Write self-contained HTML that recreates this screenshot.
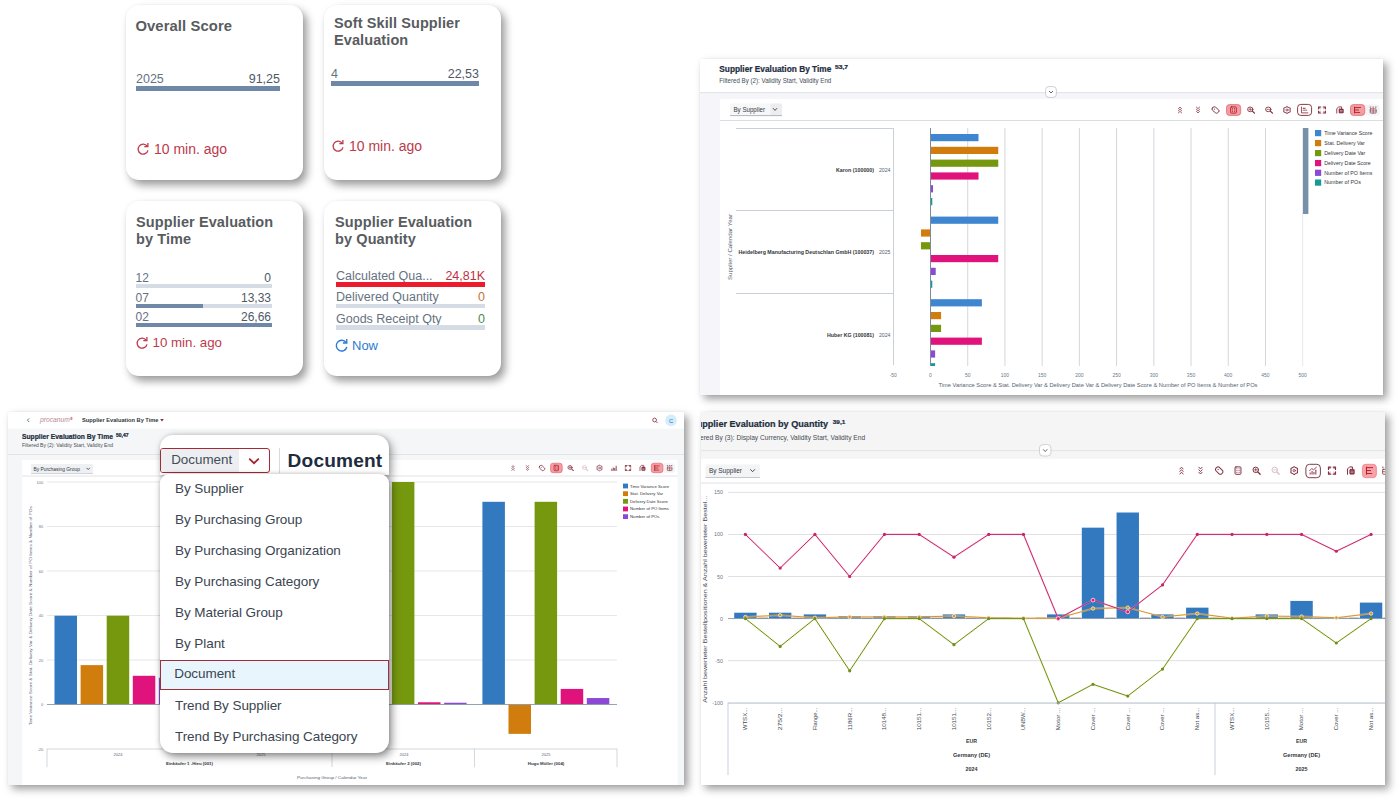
<!DOCTYPE html>
<html lang="en">
<head>
<meta charset="utf-8">
<title>Supplier Evaluation</title>
<style>
html,body{margin:0;padding:0;}
body{width:1400px;height:800px;position:relative;overflow:hidden;background:#fff;
  font-family:"Liberation Sans",sans-serif;color:#32363a;}
.abs{position:absolute;}
/* ---------- KPI cards ---------- */
.card{position:absolute;width:177px;height:175px;background:#fff;border-radius:13px;
  box-shadow:4px 5px 8px rgba(0,0,0,.40), 0 0 2px rgba(0,0,0,.05);}
.card .ttl{position:absolute;left:10px;font-weight:bold;font-size:14.5px;line-height:17px;color:#585c60;letter-spacing:.1px;white-space:nowrap;}
.card .lbl{position:absolute;font-size:12.5px;color:#66727f;white-space:nowrap;line-height:14px;}
.card .val{position:absolute;font-size:12.5px;color:#4d5966;white-space:nowrap;text-align:right;line-height:14px;}
.card .bar{position:absolute;height:5px;background:#d5dce5;}
.card .bar i{position:absolute;left:0;top:0;height:100%;background:#6f88a8;display:block;}
.card .ago{position:absolute;font-size:14px;color:#bd3a4b;white-space:nowrap;line-height:16px;}
.card .ago svg{position:absolute;left:-18px;top:1px;}
/* ---------- panels ---------- */
.panel{position:absolute;background:#fff;box-shadow:4px 4px 8px rgba(0,0,0,.38),0 0 2px rgba(0,0,0,.05);overflow:hidden;}
.panel svg{position:absolute;left:0;top:0;}
svg text{font-family:"Liberation Sans",sans-serif;}
/* ---------- dropdown overlay ---------- */
.ddhead{position:absolute;left:160px;top:435px;width:229px;height:40px;background:#fff;border-radius:13px 13px 0 0;
  box-shadow:3px 3px 8px rgba(0,0,0,.35),0 0 4px rgba(0,0,0,.15);}
.ddsel{position:absolute;left:0;top:13px;width:108px;height:23px;border:1.6px solid #a42a38;border-radius:3px;background:#fff;overflow:hidden;}
.ddtxt{position:absolute;left:0;top:0;width:78px;height:23px;background:#eceef1;font-size:13.4px;line-height:21.3px;color:#434d58;text-indent:10.2px;white-space:nowrap;}
.ddarrow{position:absolute;left:84.5px;top:2.5px;}
.ddsep{position:absolute;left:119px;top:13px;width:1px;height:25px;background:#d6d9dd;}
.ddbig{position:absolute;left:127.6px;top:14.4px;font-size:19.1px;font-weight:bold;color:#1d2d3e;line-height:24.5px;white-space:nowrap;letter-spacing:.18px;}
.ddlist{position:absolute;left:160px;top:474px;width:229px;height:279px;background:#fff;border-radius:9px 9px 13px 13px;
  box-shadow:3px 4px 9px rgba(0,0,0,.42),0 0 4px rgba(0,0,0,.18);}
.ddlist div{position:absolute;left:0;width:229px;height:30px;line-height:30px;font-size:13.5px;letter-spacing:-.06px;color:#3b4550;text-indent:15px;white-space:nowrap;box-sizing:border-box;}
.ddlist div.sel{background:#e8f5fd;border:1.8px solid #9f2d3b;text-indent:13.2px;line-height:26.6px;}
</style>
</head>
<body>

<!-- ================= KPI CARDS ================= -->
<div class="card" style="left:126px;top:5px;">
  <div class="ttl" style="top:13px;left:9.4px;font-size:14.8px;">Overall Score</div>
  <div class="lbl" style="left:10px;top:67px;">2025</div>
  <div class="val" style="right:23px;top:67px;">91,25</div>
  <div class="bar" style="left:10px;top:81px;width:144px;"><i style="width:100%"></i></div>
  <div class="ago" style="left:28px;top:136px;"><svg width="14" height="14" viewBox="0 0 14 14"><path d="M11.2 4.2A5 5 0 1 0 12 8.4" fill="none" stroke="#bd3a4b" stroke-width="1.3"/><path d="M8.3 4.6h3.6V1" fill="none" stroke="#bd3a4b" stroke-width="1.3"/></svg>10 min. ago</div>
</div>

<div class="card" style="left:324px;top:5px;">
  <div class="ttl" style="top:10px;">Soft Skill Supplier<br>Evaluation</div>
  <div class="lbl" style="left:7px;top:62px;">4</div>
  <div class="val" style="right:22px;top:62px;">22,53</div>
  <div class="bar" style="left:7px;top:76px;width:148px;"><i style="width:100%"></i></div>
  <div class="ago" style="left:25px;top:133px;"><svg width="14" height="14" viewBox="0 0 14 14"><path d="M11.2 4.2A5 5 0 1 0 12 8.4" fill="none" stroke="#bd3a4b" stroke-width="1.3"/><path d="M8.3 4.6h3.6V1" fill="none" stroke="#bd3a4b" stroke-width="1.3"/></svg>10 min. ago</div>
</div>

<div class="card" style="left:126px;top:201px;">
  <div class="ttl" style="top:12.6px;">Supplier Evaluation<br>by Time</div>
  <div class="lbl" style="left:9.5px;top:70.4px;font-size:12px;">12</div><div class="val" style="right:32px;top:70.4px;font-size:12px;">0</div>
  <div class="bar" style="left:10px;top:83px;width:136px;height:4.4px;"></div>
  <div class="lbl" style="left:9.5px;top:89.8px;font-size:12px;">07</div><div class="val" style="right:32px;top:89.8px;font-size:12px;">13,33</div>
  <div class="bar" style="left:10px;top:102.6px;width:136px;height:4.4px;"><i style="width:49.3%"></i></div>
  <div class="lbl" style="left:9.5px;top:109.4px;font-size:12px;">02</div><div class="val" style="right:32px;top:109.4px;font-size:12px;">26,66</div>
  <div class="bar" style="left:10px;top:121.5px;width:136px;height:4.8px;"><i style="width:100%"></i></div>
  <div class="ago" style="left:26.5px;top:134.4px;font-size:13.3px;"><svg width="14" height="14" viewBox="0 0 14 14"><path d="M11.2 4.2A5 5 0 1 0 12 8.4" fill="none" stroke="#bd3a4b" stroke-width="1.3"/><path d="M8.3 4.6h3.6V1" fill="none" stroke="#bd3a4b" stroke-width="1.3"/></svg>10 min. ago</div>
</div>

<div class="card" style="left:324px;top:201px;">
  <div class="ttl" style="top:12.6px;left:11px;">Supplier Evaluation<br>by Quantity</div>
  <div class="lbl" style="left:12px;top:68px;">Calculated Qua...</div><div class="val" style="right:16px;top:68px;color:#c2313f;">24,81K</div>
  <div class="bar" style="left:12px;top:81.4px;width:149px;background:#ec1c2c;"></div>
  <div class="lbl" style="left:12px;top:89px;">Delivered Quantity</div><div class="val" style="right:16px;top:89px;color:#c8723a;">0</div>
  <div class="bar" style="left:12px;top:103.2px;width:149px;height:4.2px;"></div>
  <div class="lbl" style="left:12px;top:111px;">Goods Receipt Qty</div><div class="val" style="right:16px;top:111px;color:#4b8a4e;">0</div>
  <div class="bar" style="left:12px;top:124.4px;width:149px;height:4.2px;"></div>
  <div class="ago" style="left:28px;top:137px;color:#2b7bd1;font-size:13px;"><svg width="15" height="15" viewBox="0 0 14 14" style="left:-18px;top:0"><path d="M11.2 4.2A5 5 0 1 0 12 8.4" fill="none" stroke="#2b7bd1" stroke-width="1.3"/><path d="M8.3 4.6h3.6V1" fill="none" stroke="#2b7bd1" stroke-width="1.3"/></svg>Now</div>
</div>

<div class="panel" style="left:700px;top:59px;width:683px;height:336.4px;">
<svg width="683" height="336.4" viewBox="700 59 683 336.4">
<rect x="700" y="59" width="683" height="34" fill="#fff"/>
<rect x="700" y="93" width="683" height="336.4" fill="#f6f6fa"/>
<rect x="700" y="92" width="683" height="1.2" fill="#e4e5ea"/>
<rect x="720" y="99" width="663" height="296.4" fill="#fff"/>
<text x="719.3" y="71.7" font-size="9.3" font-weight="bold" fill="#1d2d3e" stroke="#1d2d3e" stroke-width="0.22" textLength="112" lengthAdjust="spacingAndGlyphs">Supplier Evaluation By Time</text>
<text x="835" y="69.2" font-size="5.6" font-weight="bold" fill="#1d2d3e" stroke="#1d2d3e" stroke-width="0.22" textLength="13" lengthAdjust="spacingAndGlyphs">53,7</text>
<text x="719.3" y="82.7" font-size="6.9" fill="#454c54" textLength="112" lengthAdjust="spacingAndGlyphs">Filtered By (2): Validity Start, Validity End</text>
<rect x="1045.6" y="86.6" width="10.8" height="10.8" rx="3.2" fill="#fff" stroke="#bfc3c8" stroke-width="0.8"/>
<path d="M1049 91L1051 93L1053 91" fill="none" stroke="#4a5560" stroke-width="0.9"/>
<rect x="730" y="103.6" width="52" height="12" rx="1.5" fill="#f7f7f9"/>
<rect x="770.5" y="103.6" width="11.5" height="12" rx="1.5" fill="#ededf1"/>
<rect x="730" y="115.2" width="52" height="0.9" fill="#a3adb8"/>
<text x="733.5" y="111.9" font-size="6.6" fill="#32363a" textLength="31.5" lengthAdjust="spacingAndGlyphs">By Supplier</text>
<path d="M773 108.2L775 110.4L777 108.2" fill="none" stroke="#32363a" stroke-width="0.9"/>
<rect x="720" y="120" width="663" height="1" fill="#dcdde0"/>
<rect x="1226.5" y="104.6" width="14.2" height="10.8" rx="3" fill="#f39ca1" stroke="#e06a74" stroke-width="0.8"/>
<rect x="1297.6" y="104.4" width="14" height="11" rx="3.2" fill="#fff" stroke="#7a2533" stroke-width="0.9"/>
<rect x="1365" y="104.6" width="14.5" height="10.8" rx="3" fill="#f3f4f6"/>
<rect x="1350.5" y="104.6" width="14.2" height="10.8" rx="3" fill="#f39ca1" stroke="#e06a74" stroke-width="0.8"/>
<g transform="translate(1180.00,110.00) scale(0.92,0.8)" fill="none" stroke="#843040" stroke-width="0.97" stroke-linecap="round" stroke-linejoin="round" opacity="1"><path d="M-1.7 -1.7L0 -3.6L1.7 -1.7M-1.7 0.9L0 -1L1.7 0.9M-1.7 3.6L0 1.7L1.7 3.6"/></g>
<g transform="translate(1198.00,110.00) scale(0.92,0.8)" fill="none" stroke="#843040" stroke-width="0.97" stroke-linecap="round" stroke-linejoin="round" opacity="1"><path d="M-1.7 -3.6L0 -1.7L1.7 -3.6M-1.7 -0.9L0 1L1.7 -0.9M-1.7 1.7L0 3.6L1.7 1.7"/></g>
<g transform="translate(1215.50,110.00) scale(0.92,0.8)" fill="none" stroke="#843040" stroke-width="0.97" stroke-linecap="round" stroke-linejoin="round" opacity="1"><rect x="-2.5" y="-4.2" width="5" height="8.4" rx="1.9" transform="rotate(-45)" stroke-width="1.05"/><circle cx="-1.1" cy="-1.1" r="0.7" fill="#843040" stroke="none"/></g>
<g transform="translate(1233.50,110.00) scale(0.92,0.8)" fill="none" stroke="#b3202c" stroke-width="0.97" stroke-linecap="round" stroke-linejoin="round" opacity="1"><rect x="-3.1" y="-3.9" width="6.2" height="7.8" rx="0.9" stroke-width="1.05"/><path d="M-1.2 -1.9H-1.1M1.1 -1.9H1.2M-1.2 0H-1.1M1.1 0H1.2M-1.2 1.9H-1.1M1.1 1.9H1.2" stroke-width="1.01"/></g>
<g transform="translate(1251.00,110.00) scale(0.92,0.8)" fill="none" stroke="#843040" stroke-width="0.97" stroke-linecap="round" stroke-linejoin="round" opacity="1"><circle cx="-0.8" cy="-0.8" r="2.9" stroke-width="1.05"/><path d="M1.5 1.5L3.8 3.8" stroke-width="1.43"/><path d="M-2.2 -0.8H0.6M-0.8 -2.2V0.6" stroke-width="0.80"/></g>
<g transform="translate(1269.00,110.00) scale(0.92,0.8)" fill="none" stroke="#843040" stroke-width="0.97" stroke-linecap="round" stroke-linejoin="round" opacity="1"><circle cx="-0.8" cy="-0.8" r="2.9" stroke-width="1.05"/><path d="M1.5 1.5L3.8 3.8" stroke-width="1.43"/><path d="M-2.2 -0.8H0.6" stroke-width="0.80"/></g>
<g transform="translate(1287.00,110.00) scale(0.92,0.8)" fill="none" stroke="#843040" stroke-width="0.97" stroke-linecap="round" stroke-linejoin="round" opacity="1"><path d="M0 -4.2L1.5 -3.2L3.5 -2.3L3.3 -0.2L3.5 2.3L1.5 3.2L0 4.2L-1.5 3.2L-3.5 2.3L-3.3 -0.2L-3.5 -2.3L-1.5 -3.2Z" stroke-width="1.09"/><circle cx="0" cy="0" r="1.25" stroke-width="0.84"/></g>
<g transform="translate(1304.50,110.00) scale(0.92,0.8)" fill="none" stroke="#843040" stroke-width="0.97" stroke-linecap="round" stroke-linejoin="round" opacity="1"><path d="M-3.3 -3.7V3.6H3.7" /><path d="M-1.5 -2.2H0.8M-1.5 0.2H2.6" stroke-width="1.09"/></g>
<g transform="translate(1322.00,110.00) scale(0.92,0.8)" fill="none" stroke="#843040" stroke-width="0.97" stroke-linecap="round" stroke-linejoin="round" opacity="1"><path d="M-3.7 -1.2V-3.7H-1.2M1.2 -3.7H3.7V-1.2M3.7 1.2V3.7H1.2M-1.2 3.7H-3.7V1.2" stroke-width="1.22"/><path d="M-3.5 -3.5L-2 -2M3.5 -3.5L2 -2M3.5 3.5L2 2M-3.5 3.5L-2 2" stroke-width="0.92"/></g>
<g transform="translate(1340.00,110.00) scale(0.92,0.8)" fill="none" stroke="#843040" stroke-width="0.97" stroke-linecap="round" stroke-linejoin="round" opacity="1"><path d="M-3.5 3.9V-1.7L-1.3 -3.9H1.7V-1.4" stroke-width="1.05"/><rect x="-1.1" y="-1.3" width="4.8" height="5.1" rx="0.8" fill="#843040" stroke-width="0.67"/><path d="M0.2 0.6H2.4M0.2 2.2H2.4" stroke="#fff" stroke-width="0.50"/></g>
<g transform="translate(1357.50,110.00) scale(0.92,0.8)" fill="none" stroke="#b3202c" stroke-width="0.97" stroke-linecap="round" stroke-linejoin="round" opacity="1"><path d="M-3.2 -3.8V3.8" stroke-width="1.09"/><path d="M-3.2 -3.1H3.3M-3.2 0H1.2M-3.2 3.1H2.4" stroke-width="1.05"/></g>
<g transform="translate(1373.00,110.00) scale(0.92,0.8)" fill="none" stroke="#843040" stroke-width="0.97" stroke-linecap="round" stroke-linejoin="round" opacity="1"><rect x="-3" y="-1.4" width="6.4" height="5.2" rx="0.5" stroke-width="0.84"/><path d="M-3 1.2H3.4M0.2 -1.4V3.8" stroke-width="0.76"/><path d="M-3.2 -3.6H-2.4M-0.2 -3.6H0.6M2.6 -3.6H3.4" stroke-width="0.92"/></g>
<rect x="736" y="128.0" width="157.5" height="1" fill="#c9d0d8"/>
<rect x="736" y="210.0" width="157.5" height="1" fill="#c9d0d8"/>
<rect x="736" y="293.0" width="157.5" height="1" fill="#c9d0d8"/>
<rect x="893" y="128" width="1" height="237" fill="#c9d0d8"/>
<rect x="967.22" y="128" width="1" height="238" fill="#d3d7dc"/>
<rect x="1004.44" y="128" width="1" height="238" fill="#d3d7dc"/>
<rect x="1041.66" y="128" width="1" height="238" fill="#d3d7dc"/>
<rect x="1078.88" y="128" width="1" height="238" fill="#d3d7dc"/>
<rect x="1116.10" y="128" width="1" height="238" fill="#d3d7dc"/>
<rect x="1153.32" y="128" width="1" height="238" fill="#d3d7dc"/>
<rect x="1190.54" y="128" width="1" height="238" fill="#d3d7dc"/>
<rect x="1227.76" y="128" width="1" height="238" fill="#d3d7dc"/>
<rect x="1264.98" y="128" width="1" height="238" fill="#d3d7dc"/>
<rect x="1302.20" y="128" width="1" height="238" fill="#e6e8ec"/>
<rect x="930.50" y="134.00" width="48.01" height="7.2" fill="#3f86d0"/>
<rect x="930.50" y="146.80" width="67.74" height="7.2" fill="#d07d0e"/>
<rect x="930.50" y="159.60" width="67.74" height="7.2" fill="#76980f"/>
<rect x="930.50" y="172.40" width="48.01" height="7.2" fill="#df137b"/>
<rect x="930.50" y="185.20" width="2.53" height="7.2" fill="#8c49d5"/>
<rect x="930.50" y="198.00" width="1.79" height="7.2" fill="#149b95"/>
<rect x="930.50" y="216.60" width="67.74" height="7.2" fill="#3f86d0"/>
<rect x="920.97" y="229.40" width="9.53" height="7.2" fill="#d07d0e"/>
<rect x="920.97" y="242.20" width="9.53" height="7.2" fill="#76980f"/>
<rect x="930.50" y="255.00" width="67.74" height="7.2" fill="#df137b"/>
<rect x="930.50" y="267.80" width="5.21" height="7.2" fill="#8c49d5"/>
<rect x="930.50" y="280.60" width="1.79" height="7.2" fill="#149b95"/>
<rect x="930.50" y="299.20" width="51.36" height="7.2" fill="#3f86d0"/>
<rect x="930.50" y="312.00" width="10.57" height="7.2" fill="#d07d0e"/>
<rect x="930.50" y="324.80" width="10.57" height="7.2" fill="#76980f"/>
<rect x="930.50" y="337.60" width="51.36" height="7.2" fill="#df137b"/>
<rect x="930.50" y="350.40" width="4.62" height="7.2" fill="#8c49d5"/>
<rect x="930.50" y="363.20" width="4.62" height="2.8000000000000114" fill="#149b95"/>
<rect x="930.0" y="128" width="1" height="238" fill="#7c8b9b"/>
<text x="874" y="171.9" font-size="5" font-weight="bold" fill="#32363a" text-anchor="end" textLength="38" lengthAdjust="spacingAndGlyphs">Karon (100000)</text>
<text x="879" y="171.9" font-size="5" fill="#556270" textLength="11.5" lengthAdjust="spacingAndGlyphs">2024</text>
<text x="874" y="254.4" font-size="5" font-weight="bold" fill="#32363a" text-anchor="end" textLength="135.5" lengthAdjust="spacingAndGlyphs">Heidelberg Manufacturing Deutschlan GmbH (100037)</text>
<text x="879" y="254.4" font-size="5" fill="#556270" textLength="11.5" lengthAdjust="spacingAndGlyphs">2025</text>
<text x="874" y="337" font-size="5" font-weight="bold" fill="#32363a" text-anchor="end" textLength="47" lengthAdjust="spacingAndGlyphs">Huber KG (100081)</text>
<text x="879" y="337" font-size="5" fill="#556270" textLength="11.5" lengthAdjust="spacingAndGlyphs">2024</text>
<text transform="translate(731.5,280) rotate(-90)" font-size="5" fill="#556270" textLength="66" lengthAdjust="spacingAndGlyphs">Supplier / Calendar Year</text>
<text x="893.28" y="377" font-size="5" fill="#6a7a8a" text-anchor="middle">-50</text>
<text x="930.50" y="377" font-size="5" fill="#6a7a8a" text-anchor="middle">0</text>
<text x="967.72" y="377" font-size="5" fill="#6a7a8a" text-anchor="middle">50</text>
<text x="1004.94" y="377" font-size="5" fill="#6a7a8a" text-anchor="middle">100</text>
<text x="1042.16" y="377" font-size="5" fill="#6a7a8a" text-anchor="middle">150</text>
<text x="1079.38" y="377" font-size="5" fill="#6a7a8a" text-anchor="middle">200</text>
<text x="1116.60" y="377" font-size="5" fill="#6a7a8a" text-anchor="middle">250</text>
<text x="1153.82" y="377" font-size="5" fill="#6a7a8a" text-anchor="middle">300</text>
<text x="1191.04" y="377" font-size="5" fill="#6a7a8a" text-anchor="middle">350</text>
<text x="1228.26" y="377" font-size="5" fill="#6a7a8a" text-anchor="middle">400</text>
<text x="1265.48" y="377" font-size="5" fill="#6a7a8a" text-anchor="middle">450</text>
<text x="1302.70" y="377" font-size="5" fill="#6a7a8a" text-anchor="middle">500</text>
<text x="938.5" y="387" font-size="5" fill="#556270" textLength="319" lengthAdjust="spacingAndGlyphs">Time Variance Score &amp; Stat. Delivery Var &amp; Delivery Date Var &amp; Delivery Date Score &amp; Number of PO Items &amp; Number of POs</text>
<rect x="1303" y="128" width="5.4" height="86" fill="#7890aa"/>
<rect x="1315" y="130" width="6.2" height="6.2" fill="#3f86d0"/>
<text x="1324.3" y="134.9" font-size="5.2" fill="#32363a" textLength="48" lengthAdjust="spacingAndGlyphs">Time Variance Score</text>
<rect x="1315" y="140" width="6.2" height="6.2" fill="#d07d0e"/>
<text x="1324.3" y="144.9" font-size="5.2" fill="#32363a" textLength="40.5" lengthAdjust="spacingAndGlyphs">Stat. Delivery Var</text>
<rect x="1315" y="150" width="6.2" height="6.2" fill="#76980f"/>
<text x="1324.3" y="154.9" font-size="5.2" fill="#32363a" textLength="41" lengthAdjust="spacingAndGlyphs">Delivery Date Var</text>
<rect x="1315" y="160" width="6.2" height="6.2" fill="#df137b"/>
<text x="1324.3" y="164.9" font-size="5.2" fill="#32363a" textLength="46.5" lengthAdjust="spacingAndGlyphs">Delivery Date Score</text>
<rect x="1315" y="169.7" width="6.2" height="6.2" fill="#8c49d5"/>
<text x="1324.3" y="174.6" font-size="5.2" fill="#32363a" textLength="48" lengthAdjust="spacingAndGlyphs">Number of PO Items</text>
<rect x="1315" y="179.5" width="6.2" height="6.2" fill="#149b95"/>
<text x="1324.3" y="184.4" font-size="5.2" fill="#32363a" textLength="36.5" lengthAdjust="spacingAndGlyphs">Number of POs</text>
</svg></div>
<div class="panel" style="left:8px;top:412px;width:676px;height:373px;">
<svg width="676" height="373" viewBox="8 412 676 373">
<rect x="8" y="412" width="676" height="373" fill="#f5f6f7"/>
<rect x="8" y="412" width="676" height="16.6" fill="#fff"/>
<rect x="8" y="454" width="676" height="0.9" fill="#e1e3e6"/>
<rect x="22" y="460" width="655.5" height="325" fill="#fff"/>
<path d="M29.2 418.4L27.4 420.2L29.2 422" fill="none" stroke="#4a5560" stroke-width="0.8"/>
<text x="40" y="422" font-size="6.6" font-style="italic" fill="#b98a95" font-family="Liberation Serif,serif" textLength="30" lengthAdjust="spacingAndGlyphs">procanum</text>
<text x="70.3" y="419.8" font-size="4" font-style="italic" font-weight="bold" fill="#c0334a" font-family="Liberation Serif,serif">5</text>
<text x="82" y="422.1" font-size="5.9" font-weight="bold" fill="#32363a" textLength="76.5" lengthAdjust="spacingAndGlyphs">Supplier Evaluation By Time</text>
<path d="M160.2 418.9h3.6l-1.8 2.5z" fill="#8d2a3a"/>
<circle cx="654.6" cy="420" r="1.9" fill="none" stroke="#8d2a3a" stroke-width="0.8"/><path d="M656 421.5L657.6 423.1" stroke="#8d2a3a" stroke-width="0.9"/>
<circle cx="671" cy="420.4" r="5.8" fill="#d3edfb"/>
<text x="671" y="422.5" font-size="5.8" fill="#1a6fb5" text-anchor="middle">C</text>
<text x="22" y="438.7" font-size="7.3" font-weight="bold" fill="#1d2d3e" stroke="#1d2d3e" stroke-width="0.22" textLength="91" lengthAdjust="spacingAndGlyphs">Supplier Evaluation By Time</text>
<text x="116" y="437" font-size="4.6" font-weight="bold" fill="#1d2d3e" stroke="#1d2d3e" stroke-width="0.22" textLength="12.5" lengthAdjust="spacingAndGlyphs">50,47</text>
<text x="22" y="447.4" font-size="4.9" fill="#454c54" textLength="91" lengthAdjust="spacingAndGlyphs">Filtered By (2): Validity Start, Validity End</text>
<rect x="31" y="464" width="62" height="9.4" rx="1.2" fill="#eef0f3"/>
<rect x="31" y="473" width="62" height="0.8" fill="#c3cad3"/>
<text x="33.4" y="470.5" font-size="5.1" fill="#32363a" textLength="46.5" lengthAdjust="spacingAndGlyphs">By Purchasing Group</text>
<path d="M86.6 467.9L88.2 469.5L89.8 467.9" fill="none" stroke="#32363a" stroke-width="0.8"/>
<rect x="22" y="475.6" width="655.5" height="0.8" fill="#dcdde0"/>
<rect x="550.6" y="463.2" width="11.6" height="9.5" rx="2.5" fill="#f39ca1" stroke="#e06a74" stroke-width="0.7"/>
<rect x="663" y="463.2" width="12" height="9.5" rx="2.5" fill="#f3f4f6"/>
<rect x="651.3" y="463.2" width="11.6" height="9.5" rx="2.5" fill="#f39ca1" stroke="#e06a74" stroke-width="0.7"/>
<g transform="translate(513.00,468.00) scale(0.72,0.68)" fill="none" stroke="#843040" stroke-width="0.97" stroke-linecap="round" stroke-linejoin="round" opacity="1"><path d="M-1.7 -1.7L0 -3.6L1.7 -1.7M-1.7 0.9L0 -1L1.7 0.9M-1.7 3.6L0 1.7L1.7 3.6"/></g>
<g transform="translate(527.50,468.00) scale(0.72,0.68)" fill="none" stroke="#843040" stroke-width="0.97" stroke-linecap="round" stroke-linejoin="round" opacity="1"><path d="M-1.7 -3.6L0 -1.7L1.7 -3.6M-1.7 -0.9L0 1L1.7 -0.9M-1.7 1.7L0 3.6L1.7 1.7"/></g>
<g transform="translate(542.00,468.00) scale(0.72,0.68)" fill="none" stroke="#843040" stroke-width="0.97" stroke-linecap="round" stroke-linejoin="round" opacity="1"><rect x="-2.5" y="-4.2" width="5" height="8.4" rx="1.9" transform="rotate(-45)" stroke-width="1.05"/><circle cx="-1.1" cy="-1.1" r="0.7" fill="#843040" stroke="none"/></g>
<g transform="translate(556.30,468.00) scale(0.72,0.68)" fill="none" stroke="#b3202c" stroke-width="0.97" stroke-linecap="round" stroke-linejoin="round" opacity="1"><rect x="-3.1" y="-3.9" width="6.2" height="7.8" rx="0.9" stroke-width="1.05"/><path d="M-1.2 -1.9H-1.1M1.1 -1.9H1.2M-1.2 0H-1.1M1.1 0H1.2M-1.2 1.9H-1.1M1.1 1.9H1.2" stroke-width="1.01"/></g>
<g transform="translate(570.60,468.00) scale(0.72,0.68)" fill="none" stroke="#843040" stroke-width="0.97" stroke-linecap="round" stroke-linejoin="round" opacity="1"><circle cx="-0.8" cy="-0.8" r="2.9" stroke-width="1.05"/><path d="M1.5 1.5L3.8 3.8" stroke-width="1.43"/><path d="M-2.2 -0.8H0.6M-0.8 -2.2V0.6" stroke-width="0.80"/></g>
<g transform="translate(585.00,468.00) scale(0.72,0.68)" fill="none" stroke="#843040" stroke-width="0.97" stroke-linecap="round" stroke-linejoin="round" opacity="0.3"><circle cx="-0.8" cy="-0.8" r="2.9" stroke-width="1.05"/><path d="M1.5 1.5L3.8 3.8" stroke-width="1.43"/><path d="M-2.2 -0.8H0.6" stroke-width="0.80"/></g>
<g transform="translate(599.50,468.00) scale(0.72,0.68)" fill="none" stroke="#843040" stroke-width="0.97" stroke-linecap="round" stroke-linejoin="round" opacity="1"><path d="M0 -4.2L1.5 -3.2L3.5 -2.3L3.3 -0.2L3.5 2.3L1.5 3.2L0 4.2L-1.5 3.2L-3.5 2.3L-3.3 -0.2L-3.5 -2.3L-1.5 -3.2Z" stroke-width="1.09"/><circle cx="0" cy="0" r="1.25" stroke-width="0.84"/></g>
<g transform="translate(614.00,468.00) scale(0.72,0.68)" fill="none" stroke="#843040" stroke-width="0.97" stroke-linecap="round" stroke-linejoin="round" opacity="1"><path d="M-3 3.2V1M-1 3.2V-0.8M1 3.2V0M3 3.2V-3.2" stroke-width="1.26" stroke-linecap="butt"/><path d="M-4 3.6H4" stroke-width="0.67"/></g>
<g transform="translate(628.00,468.00) scale(0.72,0.68)" fill="none" stroke="#843040" stroke-width="0.97" stroke-linecap="round" stroke-linejoin="round" opacity="1"><path d="M-3.7 -1.2V-3.7H-1.2M1.2 -3.7H3.7V-1.2M3.7 1.2V3.7H1.2M-1.2 3.7H-3.7V1.2" stroke-width="1.22"/><path d="M-3.5 -3.5L-2 -2M3.5 -3.5L2 -2M3.5 3.5L2 2M-3.5 3.5L-2 2" stroke-width="0.92"/></g>
<g transform="translate(642.50,468.00) scale(0.72,0.68)" fill="none" stroke="#843040" stroke-width="0.97" stroke-linecap="round" stroke-linejoin="round" opacity="1"><path d="M-3.5 3.9V-1.7L-1.3 -3.9H1.7V-1.4" stroke-width="1.05"/><rect x="-1.1" y="-1.3" width="4.8" height="5.1" rx="0.8" fill="#843040" stroke-width="0.67"/><path d="M0.2 0.6H2.4M0.2 2.2H2.4" stroke="#fff" stroke-width="0.50"/></g>
<g transform="translate(657.00,468.00) scale(0.72,0.68)" fill="none" stroke="#b3202c" stroke-width="0.97" stroke-linecap="round" stroke-linejoin="round" opacity="1"><path d="M-3.2 -3.8V3.8" stroke-width="1.09"/><path d="M-3.2 -3.1H3.3M-3.2 0H1.2M-3.2 3.1H2.4" stroke-width="1.05"/></g>
<g transform="translate(669.50,468.00) scale(0.72,0.68)" fill="none" stroke="#843040" stroke-width="0.97" stroke-linecap="round" stroke-linejoin="round" opacity="1"><rect x="-3" y="-1.4" width="6.4" height="5.2" rx="0.5" stroke-width="0.84"/><path d="M-3 1.2H3.4M0.2 -1.4V3.8" stroke-width="0.76"/><path d="M-3.2 -3.6H-2.4M-0.2 -3.6H0.6M2.6 -3.6H3.4" stroke-width="0.92"/></g>
<text x="43.3" y="750.50" font-size="4" fill="#6a7a8a" text-anchor="end">-20</text>
<text x="43.3" y="706.00" font-size="4" fill="#6a7a8a" text-anchor="end">0</text>
<rect x="47" y="659.65" width="570" height="0.7" fill="#dcdee2"/>
<text x="43.3" y="661.50" font-size="4" fill="#6a7a8a" text-anchor="end">20</text>
<rect x="47" y="615.15" width="570" height="0.7" fill="#dcdee2"/>
<text x="43.3" y="617.00" font-size="4" fill="#6a7a8a" text-anchor="end">40</text>
<rect x="47" y="570.65" width="570" height="0.7" fill="#dcdee2"/>
<text x="43.3" y="572.50" font-size="4" fill="#6a7a8a" text-anchor="end">60</text>
<rect x="47" y="526.15" width="570" height="0.7" fill="#dcdee2"/>
<text x="43.3" y="528.00" font-size="4" fill="#6a7a8a" text-anchor="end">80</text>
<rect x="47" y="481.65" width="570" height="0.7" fill="#dcdee2"/>
<text x="43.3" y="483.50" font-size="4" fill="#6a7a8a" text-anchor="end">100</text>
<rect x="54.50" y="615.72" width="22.5" height="88.78" fill="#3379c0"/>
<rect x="80.60" y="665.12" width="22.5" height="39.38" fill="#d07d0e"/>
<rect x="106.70" y="615.72" width="22.5" height="88.78" fill="#76980f"/>
<rect x="132.80" y="675.80" width="22.5" height="28.70" fill="#df137b"/>
<rect x="158.90" y="677.80" width="22.5" height="26.70" fill="#8c49d5"/>
<rect x="339.70" y="482.00" width="22.5" height="222.50" fill="#3379c0"/>
<rect x="391.90" y="482.00" width="22.5" height="222.50" fill="#76980f"/>
<rect x="418.00" y="702.27" width="22.5" height="2.23" fill="#df137b"/>
<rect x="444.10" y="702.72" width="22.5" height="1.78" fill="#8c49d5"/>
<rect x="482.40" y="501.80" width="22.5" height="202.70" fill="#3379c0"/>
<rect x="508.50" y="704.50" width="22.5" height="29.37" fill="#d07d0e"/>
<rect x="534.60" y="501.80" width="22.5" height="202.70" fill="#76980f"/>
<rect x="560.70" y="688.92" width="22.5" height="15.58" fill="#df137b"/>
<rect x="586.80" y="698.05" width="22.5" height="6.45" fill="#8c49d5"/>
<rect x="47" y="704.1" width="570" height="0.9" fill="#8b98a6"/>
<rect x="47" y="748.6" width="570" height="0.8" fill="#c9d0d8"/>
<rect x="46.6" y="748.6" width="0.8" height="18.6" fill="#c9d0d8"/>
<rect x="331.6" y="748.6" width="0.8" height="18.6" fill="#c9d0d8"/>
<rect x="474.1" y="748.6" width="0.8" height="18.6" fill="#c9d0d8"/>
<rect x="616.6" y="748.6" width="0.8" height="18.6" fill="#c9d0d8"/>
<text x="118" y="755.7" font-size="4" fill="#556270" text-anchor="middle">2024</text>
<text x="261" y="755.7" font-size="4" fill="#556270" text-anchor="middle">2025</text>
<text x="404" y="755.7" font-size="4" fill="#556270" text-anchor="middle">2024</text>
<text x="546" y="755.7" font-size="4" fill="#556270" text-anchor="middle">2025</text>
<text x="189.5" y="764.6" font-size="4" font-weight="bold" fill="#32363a" text-anchor="middle" textLength="47" lengthAdjust="spacingAndGlyphs">Einkäufer 1 -Hieu (001)</text>
<text x="403.5" y="764.6" font-size="4" font-weight="bold" fill="#32363a" text-anchor="middle" textLength="35" lengthAdjust="spacingAndGlyphs">Einkäufer 2 (002)</text>
<text x="546" y="764.6" font-size="4" font-weight="bold" fill="#32363a" text-anchor="middle" textLength="36.5" lengthAdjust="spacingAndGlyphs">Hugo Müller (004)</text>
<text x="332" y="778.8" font-size="4" fill="#556270" text-anchor="middle" textLength="70" lengthAdjust="spacingAndGlyphs">Purchasing Group / Calendar Year</text>
<text transform="translate(31.6,725.2) rotate(-90)" font-size="4" fill="#556270" textLength="219" lengthAdjust="spacingAndGlyphs">Time Variance Score &amp; Stat. Delivery Var &amp; Delivery Date Score &amp; Number of PO Items &amp; Number of POs</text>
<rect x="623" y="483.60" width="5" height="4.8" fill="#3379c0"/>
<text x="630" y="487.50" font-size="4.2" fill="#32363a" textLength="39" lengthAdjust="spacingAndGlyphs">Time Variance Score</text>
<rect x="623" y="491.26" width="5" height="4.8" fill="#d07d0e"/>
<text x="630" y="495.16" font-size="4.2" fill="#32363a" textLength="33" lengthAdjust="spacingAndGlyphs">Stat. Delivery Var</text>
<rect x="623" y="498.92" width="5" height="4.8" fill="#76980f"/>
<text x="630" y="502.82" font-size="4.2" fill="#32363a" textLength="38" lengthAdjust="spacingAndGlyphs">Delivery Date Score</text>
<rect x="623" y="506.58" width="5" height="4.8" fill="#df137b"/>
<text x="630" y="510.48" font-size="4.2" fill="#32363a" textLength="39" lengthAdjust="spacingAndGlyphs">Number of PO Items</text>
<rect x="623" y="514.24" width="5" height="4.8" fill="#8c49d5"/>
<text x="630" y="518.14" font-size="4.2" fill="#32363a" textLength="29.5" lengthAdjust="spacingAndGlyphs">Number of POs</text>
</svg></div>
<div class="ddhead"><div class="ddsel"><span class="ddtxt">Document</span><span class="ddarrow"><svg width="16" height="10" viewBox="0 0 16 10"><path d="M3.2 2.6L8 7.2L12.8 2.6" fill="none" stroke="#a3212f" stroke-width="1.7"/></svg></span></div><div class="ddsep"></div><div class="ddbig">Document</div></div>
<div class="ddlist">
<div style="top:0px">By Supplier</div>
<div style="top:31px">By Purchasing Group</div>
<div style="top:62px">By Purchasing Organization</div>
<div style="top:93px">By Purchasing Category</div>
<div style="top:124px">By Material Group</div>
<div style="top:155px">By Plant</div>
<div class="sel" style="top:186px">Document</div>
<div style="top:217px">Trend By Supplier</div>
<div style="top:248px">Trend By Purchasing Category</div>
</div>
<div class="panel" style="left:700.5px;top:412px;width:684.5px;height:373px;">
<svg width="684.5" height="373" viewBox="700.5 412 684.5 373">
<rect x="700.5" y="412" width="684.5" height="373" fill="#f5f5f5"/>
<rect x="700.5" y="450.2" width="684.5" height="0.9" fill="#e2e3e5"/>
<rect x="700.5" y="458.8" width="684.5" height="326.2" fill="#fff"/>
<text x="827.6" y="426.6" font-size="9.6" font-weight="bold" fill="#1d2d3e" stroke="#1d2d3e" stroke-width="0.22" text-anchor="end" textLength="137.5" lengthAdjust="spacingAndGlyphs">Supplier Evaluation by Quantity</text>
<text x="832.3" y="424.2" font-size="6" font-weight="bold" fill="#1d2d3e" stroke="#1d2d3e" stroke-width="0.22" textLength="12.5" lengthAdjust="spacingAndGlyphs">39,1</text>
<text x="864.6" y="439.8" font-size="7.1" fill="#454c54" text-anchor="end" textLength="174" lengthAdjust="spacingAndGlyphs">Filtered By (3): Display Currency, Validity Start, Validity End</text>
<rect x="1039" y="444.6" width="11.4" height="11.4" rx="3.4" fill="#fff" stroke="#c4c7cb" stroke-width="0.8"/>
<path d="M1042.6 449.3L1044.7 451.5L1046.8 449.3" fill="none" stroke="#4a5560" stroke-width="0.9"/>
<rect x="705" y="464.4" width="54.4" height="13" rx="1.5" fill="#f3f4f6"/>
<rect x="705" y="477" width="54.4" height="0.9" fill="#b9c2cc"/>
<text x="708.5" y="472.6" font-size="7.2" fill="#32363a" textLength="33" lengthAdjust="spacingAndGlyphs">By Supplier</text>
<path d="M749.8 469.3L752.1 471.7L754.4 469.3" fill="none" stroke="#32363a" stroke-width="0.9"/>
<rect x="700.5" y="482.6" width="684.5" height="0.9" fill="#dcdde0"/>
<rect x="1305.4" y="464.3" width="14.5" height="13.4" rx="3.6" fill="#fff" stroke="#6f2833" stroke-width="0.9"/>
<rect x="1361.9" y="464.3" width="14" height="13.4" rx="3.4" fill="#f8a3a8" stroke="#ee7f88" stroke-width="0.8"/>
<g transform="translate(1181.00,470.60) scale(0.95,0.95)" fill="none" stroke="#843040" stroke-width="0.97" stroke-linecap="round" stroke-linejoin="round" opacity="1"><path d="M-1.7 -1.7L0 -3.6L1.7 -1.7M-1.7 0.9L0 -1L1.7 0.9M-1.7 3.6L0 1.7L1.7 3.6"/></g>
<g transform="translate(1200.00,470.60) scale(0.95,0.95)" fill="none" stroke="#843040" stroke-width="0.97" stroke-linecap="round" stroke-linejoin="round" opacity="1"><path d="M-1.7 -3.6L0 -1.7L1.7 -3.6M-1.7 -0.9L0 1L1.7 -0.9M-1.7 1.7L0 3.6L1.7 1.7"/></g>
<g transform="translate(1218.70,470.60) scale(0.95,0.95)" fill="none" stroke="#843040" stroke-width="0.97" stroke-linecap="round" stroke-linejoin="round" opacity="1"><rect x="-2.5" y="-4.2" width="5" height="8.4" rx="1.9" transform="rotate(-45)" stroke-width="1.05"/><circle cx="-1.1" cy="-1.1" r="0.7" fill="#843040" stroke="none"/></g>
<g transform="translate(1237.50,470.60) scale(0.95,0.95)" fill="none" stroke="#843040" stroke-width="0.97" stroke-linecap="round" stroke-linejoin="round" opacity="1"><rect x="-3.1" y="-3.9" width="6.2" height="7.8" rx="0.9" stroke-width="1.05"/><path d="M-1.2 -1.9H-1.1M1.1 -1.9H1.2M-1.2 0H-1.1M1.1 0H1.2M-1.2 1.9H-1.1M1.1 1.9H1.2" stroke-width="1.01"/></g>
<g transform="translate(1256.00,470.60) scale(0.95,0.95)" fill="none" stroke="#843040" stroke-width="0.97" stroke-linecap="round" stroke-linejoin="round" opacity="1"><circle cx="-0.8" cy="-0.8" r="2.9" stroke-width="1.05"/><path d="M1.5 1.5L3.8 3.8" stroke-width="1.43"/><path d="M-2.2 -0.8H0.6M-0.8 -2.2V0.6" stroke-width="0.80"/></g>
<g transform="translate(1275.00,470.60) scale(0.95,0.95)" fill="none" stroke="#843040" stroke-width="0.97" stroke-linecap="round" stroke-linejoin="round" opacity="0.3"><circle cx="-0.8" cy="-0.8" r="2.9" stroke-width="1.05"/><path d="M1.5 1.5L3.8 3.8" stroke-width="1.43"/><path d="M-2.2 -0.8H0.6" stroke-width="0.80"/></g>
<g transform="translate(1293.70,470.60) scale(0.95,0.95)" fill="none" stroke="#843040" stroke-width="0.97" stroke-linecap="round" stroke-linejoin="round" opacity="1"><path d="M0 -4.2L1.5 -3.2L3.5 -2.3L3.3 -0.2L3.5 2.3L1.5 3.2L0 4.2L-1.5 3.2L-3.5 2.3L-3.3 -0.2L-3.5 -2.3L-1.5 -3.2Z" stroke-width="1.09"/><circle cx="0" cy="0" r="1.25" stroke-width="0.84"/></g>
<g transform="translate(1312.50,470.60) scale(0.95,0.95)" fill="none" stroke="#843040" stroke-width="0.97" stroke-linecap="round" stroke-linejoin="round" opacity="1"><path d="M-3.7 0.2L-1.3 -2.2L0.5 -0.8L3.6 -3.6" stroke-width="0.92"/><path d="M-3 3.7V2.4M-1 3.7V0.8M1 3.7V1.8M3 3.7V-0.6" stroke-width="1.05"/></g>
<g transform="translate(1331.50,470.60) scale(0.95,0.95)" fill="none" stroke="#843040" stroke-width="0.97" stroke-linecap="round" stroke-linejoin="round" opacity="1"><path d="M-3.7 -1.2V-3.7H-1.2M1.2 -3.7H3.7V-1.2M3.7 1.2V3.7H1.2M-1.2 3.7H-3.7V1.2" stroke-width="1.22"/><path d="M-3.5 -3.5L-2 -2M3.5 -3.5L2 -2M3.5 3.5L2 2M-3.5 3.5L-2 2" stroke-width="0.92"/></g>
<g transform="translate(1350.30,470.60) scale(0.95,0.95)" fill="none" stroke="#843040" stroke-width="0.97" stroke-linecap="round" stroke-linejoin="round" opacity="1"><path d="M-3.5 3.9V-1.7L-1.3 -3.9H1.7V-1.4" stroke-width="1.05"/><rect x="-1.1" y="-1.3" width="4.8" height="5.1" rx="0.8" fill="#843040" stroke-width="0.67"/><path d="M0.2 0.6H2.4M0.2 2.2H2.4" stroke="#fff" stroke-width="0.50"/></g>
<g transform="translate(1369.00,470.60) scale(0.95,0.95)" fill="none" stroke="#b3202c" stroke-width="0.97" stroke-linecap="round" stroke-linejoin="round" opacity="1"><path d="M-3.2 -3.8V3.8" stroke-width="1.09"/><path d="M-3.2 -3.1H3.3M-3.2 0H1.2M-3.2 3.1H2.4" stroke-width="1.05"/></g>
<g transform="translate(1385.00,470.60) scale(0.95,0.95)" fill="none" stroke="#843040" stroke-width="0.97" stroke-linecap="round" stroke-linejoin="round" opacity="1"><rect x="-3" y="-1.4" width="6.4" height="5.2" rx="0.5" stroke-width="0.84"/><path d="M-3 1.2H3.4M0.2 -1.4V3.8" stroke-width="0.76"/><path d="M-3.2 -3.6H-2.4M-0.2 -3.6H0.6M2.6 -3.6H3.4" stroke-width="0.92"/></g>
<text x="722.6" y="704.80" font-size="5.4" fill="#6a7a8a" text-anchor="end">-100</text>
<rect x="727.5" y="660.25" width="660" height="0.9" fill="#dcdcdf"/>
<text x="722.6" y="662.70" font-size="5.4" fill="#6a7a8a" text-anchor="end">-50</text>
<text x="722.6" y="620.60" font-size="5.4" fill="#6a7a8a" text-anchor="end">0</text>
<rect x="727.5" y="576.05" width="660" height="0.9" fill="#dcdcdf"/>
<text x="722.6" y="578.50" font-size="5.4" fill="#6a7a8a" text-anchor="end">50</text>
<rect x="727.5" y="533.95" width="660" height="0.9" fill="#dcdcdf"/>
<text x="722.6" y="536.40" font-size="5.4" fill="#6a7a8a" text-anchor="end">100</text>
<rect x="727.5" y="491.85" width="660" height="0.9" fill="#dcdcdf"/>
<text x="722.6" y="494.30" font-size="5.4" fill="#6a7a8a" text-anchor="end">150</text>
<rect x="733.70" y="612.71" width="22.4" height="5.89" fill="#3379c0"/>
<rect x="757.10" y="617.60" width="10.4" height="1.4" fill="#8e8a84"/>
<rect x="768.46" y="612.71" width="22.4" height="5.89" fill="#3379c0"/>
<rect x="791.86" y="617.60" width="10.4" height="1.4" fill="#8e8a84"/>
<rect x="803.22" y="614.39" width="22.4" height="4.21" fill="#3379c0"/>
<rect x="826.62" y="617.60" width="10.4" height="1.4" fill="#8e8a84"/>
<rect x="837.98" y="616.07" width="22.4" height="2.53" fill="#3379c0"/>
<rect x="861.38" y="617.60" width="10.4" height="1.4" fill="#8e8a84"/>
<rect x="872.74" y="616.07" width="22.4" height="2.53" fill="#3379c0"/>
<rect x="896.14" y="617.60" width="10.4" height="1.4" fill="#8e8a84"/>
<rect x="907.50" y="616.07" width="22.4" height="2.53" fill="#3379c0"/>
<rect x="930.90" y="617.60" width="10.4" height="1.4" fill="#8e8a84"/>
<rect x="942.26" y="614.39" width="22.4" height="4.21" fill="#3379c0"/>
<rect x="965.66" y="617.60" width="10.4" height="1.4" fill="#8e8a84"/>
<rect x="977.02" y="617.76" width="22.4" height="0.84" fill="#3379c0"/>
<rect x="1000.42" y="617.60" width="10.4" height="1.4" fill="#8e8a84"/>
<rect x="1011.78" y="618.09" width="22.4" height="0.51" fill="#3379c0"/>
<rect x="1035.18" y="617.60" width="10.4" height="1.4" fill="#8e8a84"/>
<rect x="1046.54" y="614.39" width="22.4" height="4.21" fill="#3379c0"/>
<rect x="1069.94" y="617.60" width="10.4" height="1.4" fill="#8e8a84"/>
<rect x="1081.30" y="527.66" width="22.4" height="90.94" fill="#3379c0"/>
<rect x="1104.70" y="617.60" width="10.4" height="1.4" fill="#8e8a84"/>
<rect x="1116.06" y="512.51" width="22.4" height="106.09" fill="#3379c0"/>
<rect x="1139.46" y="617.60" width="10.4" height="1.4" fill="#8e8a84"/>
<rect x="1150.82" y="614.39" width="22.4" height="4.21" fill="#3379c0"/>
<rect x="1174.22" y="617.60" width="10.4" height="1.4" fill="#8e8a84"/>
<rect x="1185.58" y="607.65" width="22.4" height="10.95" fill="#3379c0"/>
<rect x="1208.98" y="617.60" width="10.4" height="1.4" fill="#8e8a84"/>
<rect x="1220.34" y="617.76" width="22.4" height="0.84" fill="#3379c0"/>
<rect x="1243.74" y="617.60" width="10.4" height="1.4" fill="#8e8a84"/>
<rect x="1255.10" y="614.39" width="22.4" height="4.21" fill="#3379c0"/>
<rect x="1278.50" y="617.60" width="10.4" height="1.4" fill="#8e8a84"/>
<rect x="1289.86" y="600.92" width="22.4" height="17.68" fill="#3379c0"/>
<rect x="1313.26" y="617.60" width="10.4" height="1.4" fill="#8e8a84"/>
<rect x="1324.62" y="617.76" width="22.4" height="0.84" fill="#3379c0"/>
<rect x="1348.02" y="617.60" width="10.4" height="1.4" fill="#8e8a84"/>
<rect x="1359.38" y="602.60" width="22.4" height="16.00" fill="#3379c0"/>
<rect x="1382.78" y="617.60" width="10.4" height="1.4" fill="#8e8a84"/>
<rect x="727.5" y="618.15" width="660" height="0.9" fill="#8b98a6"/>
<polyline points="744.90,616.92 779.66,615.23 814.42,617.76 849.18,616.92 883.94,616.92 918.70,616.92 953.46,616.07 988.22,617.76 1022.98,618.18 1057.74,618.18 1092.50,608.50 1127.26,607.65 1162.02,616.92 1196.78,613.55 1231.54,618.18 1266.30,616.07 1301.06,616.50 1335.82,617.76 1370.58,613.55" fill="none" stroke="#f5e3b8" stroke-width="1.9" stroke-linejoin="round" opacity="0.45"/>
<polyline points="744.90,616.92 779.66,615.23 814.42,617.76 849.18,616.92 883.94,616.92 918.70,616.92 953.46,616.07 988.22,617.76 1022.98,618.18 1057.74,618.18 1092.50,608.50 1127.26,607.65 1162.02,616.92 1196.78,613.55 1231.54,618.18 1266.30,616.07 1301.06,616.50 1335.82,617.76 1370.58,613.55" fill="none" stroke="#d8932a" stroke-width="1.0" stroke-linejoin="round"/>
<circle cx="744.90" cy="616.92" r="1.7" fill="#d8932a" stroke="#f4e4c0" stroke-width="0.9"/>
<circle cx="779.66" cy="615.23" r="1.7" fill="#d8932a" stroke="#f4e4c0" stroke-width="0.9"/>
<circle cx="814.42" cy="617.76" r="1.7" fill="#d8932a" stroke="#f4e4c0" stroke-width="0.9"/>
<circle cx="849.18" cy="616.92" r="1.7" fill="#d8932a" stroke="#f4e4c0" stroke-width="0.9"/>
<circle cx="883.94" cy="616.92" r="1.7" fill="#d8932a" stroke="#f4e4c0" stroke-width="0.9"/>
<circle cx="918.70" cy="616.92" r="1.7" fill="#d8932a" stroke="#f4e4c0" stroke-width="0.9"/>
<circle cx="953.46" cy="616.07" r="1.7" fill="#d8932a" stroke="#f4e4c0" stroke-width="0.9"/>
<circle cx="988.22" cy="617.76" r="1.7" fill="#d8932a" stroke="#f4e4c0" stroke-width="0.9"/>
<circle cx="1022.98" cy="618.18" r="1.7" fill="#d8932a" stroke="#f4e4c0" stroke-width="0.9"/>
<circle cx="1057.74" cy="618.18" r="1.7" fill="#d8932a" stroke="#f4e4c0" stroke-width="0.9"/>
<circle cx="1092.50" cy="608.50" r="1.7" fill="#d8932a" stroke="#f4e4c0" stroke-width="0.9"/>
<circle cx="1127.26" cy="607.65" r="1.7" fill="#d8932a" stroke="#f4e4c0" stroke-width="0.9"/>
<circle cx="1162.02" cy="616.92" r="1.7" fill="#d8932a" stroke="#f4e4c0" stroke-width="0.9"/>
<circle cx="1196.78" cy="613.55" r="1.7" fill="#d8932a" stroke="#f4e4c0" stroke-width="0.9"/>
<circle cx="1231.54" cy="618.18" r="1.7" fill="#d8932a" stroke="#f4e4c0" stroke-width="0.9"/>
<circle cx="1266.30" cy="616.07" r="1.7" fill="#d8932a" stroke="#f4e4c0" stroke-width="0.9"/>
<circle cx="1301.06" cy="616.50" r="1.7" fill="#d8932a" stroke="#f4e4c0" stroke-width="0.9"/>
<circle cx="1335.82" cy="617.76" r="1.7" fill="#d8932a" stroke="#f4e4c0" stroke-width="0.9"/>
<circle cx="1370.58" cy="613.55" r="1.7" fill="#d8932a" stroke="#f4e4c0" stroke-width="0.9"/>
<polyline points="744.90,534.40 779.66,568.08 814.42,534.40 849.18,576.50 883.94,534.40 918.70,534.40 953.46,557.13 988.22,534.40 1022.98,534.40 1057.74,618.60 1092.50,600.08 1127.26,611.86 1162.02,584.92 1196.78,534.40 1231.54,534.40 1266.30,534.40 1301.06,534.40 1335.82,551.24 1370.58,534.40" fill="none" stroke="#f7a8cc" stroke-width="1.9" stroke-linejoin="round" opacity="0.45"/>
<polyline points="744.90,534.40 779.66,568.08 814.42,534.40 849.18,576.50 883.94,534.40 918.70,534.40 953.46,557.13 988.22,534.40 1022.98,534.40 1057.74,618.60 1092.50,600.08 1127.26,611.86 1162.02,584.92 1196.78,534.40 1231.54,534.40 1266.30,534.40 1301.06,534.40 1335.82,551.24 1370.58,534.40" fill="none" stroke="#c92468" stroke-width="1.0" stroke-linejoin="round"/>
<circle cx="744.90" cy="534.40" r="1.6" fill="#c92468"/>
<circle cx="779.66" cy="568.08" r="1.6" fill="#c92468"/>
<circle cx="814.42" cy="534.40" r="1.6" fill="#c92468"/>
<circle cx="849.18" cy="576.50" r="1.6" fill="#c92468"/>
<circle cx="883.94" cy="534.40" r="1.6" fill="#c92468"/>
<circle cx="918.70" cy="534.40" r="1.6" fill="#c92468"/>
<circle cx="953.46" cy="557.13" r="1.6" fill="#c92468"/>
<circle cx="988.22" cy="534.40" r="1.6" fill="#c92468"/>
<circle cx="1022.98" cy="534.40" r="1.6" fill="#c92468"/>
<circle cx="1057.74" cy="618.60" r="1.6" fill="#c92468"/>
<circle cx="1092.50" cy="600.08" r="1.6" fill="#c92468"/>
<circle cx="1127.26" cy="611.86" r="1.6" fill="#c92468"/>
<circle cx="1162.02" cy="584.92" r="1.6" fill="#c92468"/>
<circle cx="1196.78" cy="534.40" r="1.6" fill="#c92468"/>
<circle cx="1231.54" cy="534.40" r="1.6" fill="#c92468"/>
<circle cx="1266.30" cy="534.40" r="1.6" fill="#c92468"/>
<circle cx="1301.06" cy="534.40" r="1.6" fill="#c92468"/>
<circle cx="1335.82" cy="551.24" r="1.6" fill="#c92468"/>
<circle cx="1370.58" cy="534.40" r="1.6" fill="#c92468"/>
<polyline points="744.90,618.60 779.66,646.39 814.42,618.60 849.18,670.80 883.94,618.60 918.70,618.60 953.46,644.70 988.22,618.60 1022.98,618.60 1057.74,702.80 1092.50,684.28 1127.26,696.06 1162.02,669.12 1196.78,618.60 1231.54,618.60 1266.30,618.60 1301.06,618.60 1335.82,643.02 1370.58,618.60" fill="none" stroke="#e3ec9a" stroke-width="1.9" stroke-linejoin="round" opacity="0.45"/>
<polyline points="744.90,618.60 779.66,646.39 814.42,618.60 849.18,670.80 883.94,618.60 918.70,618.60 953.46,644.70 988.22,618.60 1022.98,618.60 1057.74,702.80 1092.50,684.28 1127.26,696.06 1162.02,669.12 1196.78,618.60 1231.54,618.60 1266.30,618.60 1301.06,618.60 1335.82,643.02 1370.58,618.60" fill="none" stroke="#6f8e1c" stroke-width="1.0" stroke-linejoin="round"/>
<circle cx="744.90" cy="618.60" r="1.6" fill="#6f8e1c"/>
<circle cx="779.66" cy="646.39" r="1.6" fill="#6f8e1c"/>
<circle cx="814.42" cy="618.60" r="1.6" fill="#6f8e1c"/>
<circle cx="849.18" cy="670.80" r="1.6" fill="#6f8e1c"/>
<circle cx="883.94" cy="618.60" r="1.6" fill="#6f8e1c"/>
<circle cx="918.70" cy="618.60" r="1.6" fill="#6f8e1c"/>
<circle cx="953.46" cy="644.70" r="1.6" fill="#6f8e1c"/>
<circle cx="988.22" cy="618.60" r="1.6" fill="#6f8e1c"/>
<circle cx="1022.98" cy="618.60" r="1.6" fill="#6f8e1c"/>
<circle cx="1057.74" cy="702.80" r="1.6" fill="#6f8e1c"/>
<circle cx="1092.50" cy="684.28" r="1.6" fill="#6f8e1c"/>
<circle cx="1127.26" cy="696.06" r="1.6" fill="#6f8e1c"/>
<circle cx="1162.02" cy="669.12" r="1.6" fill="#6f8e1c"/>
<circle cx="1196.78" cy="618.60" r="1.6" fill="#6f8e1c"/>
<circle cx="1231.54" cy="618.60" r="1.6" fill="#6f8e1c"/>
<circle cx="1266.30" cy="618.60" r="1.6" fill="#6f8e1c"/>
<circle cx="1301.06" cy="618.60" r="1.6" fill="#6f8e1c"/>
<circle cx="1335.82" cy="643.02" r="1.6" fill="#6f8e1c"/>
<circle cx="1370.58" cy="618.60" r="1.6" fill="#6f8e1c"/>
<circle cx="1057.74" cy="618.60" r="1.9" fill="#d81b70" stroke="#fbd0e4" stroke-width="0.9"/>
<circle cx="1092.50" cy="600.08" r="1.9" fill="#d81b70" stroke="#fbd0e4" stroke-width="0.9"/>
<circle cx="1127.26" cy="611.86" r="1.9" fill="#d81b70" stroke="#fbd0e4" stroke-width="0.9"/>
<rect x="727.5" y="702.6" width="660" height="0.9" fill="#a8b3bf"/>
<rect x="727.05" y="702.6" width="0.9" height="72.6" fill="#c3cbd4"/>
<rect x="1214.05" y="702.6" width="0.9" height="72.6" fill="#c3cbd4"/>
<text transform="translate(746.80,730.3) rotate(-90)" font-size="5.2" fill="#3f4953" textLength="22.5" lengthAdjust="spacingAndGlyphs">WTSX...</text>
<text transform="translate(781.56,730.3) rotate(-90)" font-size="5.2" fill="#3f4953" textLength="22.5" lengthAdjust="spacingAndGlyphs">275/2...</text>
<text transform="translate(816.32,730.3) rotate(-90)" font-size="5.2" fill="#3f4953" textLength="22.5" lengthAdjust="spacingAndGlyphs">Flange...</text>
<text transform="translate(851.08,730.3) rotate(-90)" font-size="5.2" fill="#3f4953" textLength="22.5" lengthAdjust="spacingAndGlyphs">1186R...</text>
<text transform="translate(885.84,730.3) rotate(-90)" font-size="5.2" fill="#3f4953" textLength="22.5" lengthAdjust="spacingAndGlyphs">10148...</text>
<text transform="translate(920.60,730.3) rotate(-90)" font-size="5.2" fill="#3f4953" textLength="22.5" lengthAdjust="spacingAndGlyphs">10151...</text>
<text transform="translate(955.36,730.3) rotate(-90)" font-size="5.2" fill="#3f4953" textLength="22.5" lengthAdjust="spacingAndGlyphs">10151...</text>
<text transform="translate(990.12,730.3) rotate(-90)" font-size="5.2" fill="#3f4953" textLength="22.5" lengthAdjust="spacingAndGlyphs">10152...</text>
<text transform="translate(1024.88,730.3) rotate(-90)" font-size="5.2" fill="#3f4953" textLength="22.5" lengthAdjust="spacingAndGlyphs">UNBW...</text>
<text transform="translate(1059.64,730.3) rotate(-90)" font-size="5.2" fill="#3f4953" textLength="22.5" lengthAdjust="spacingAndGlyphs">Motor ...</text>
<text transform="translate(1094.40,730.3) rotate(-90)" font-size="5.2" fill="#3f4953" textLength="22.5" lengthAdjust="spacingAndGlyphs">Cover ...</text>
<text transform="translate(1129.16,730.3) rotate(-90)" font-size="5.2" fill="#3f4953" textLength="22.5" lengthAdjust="spacingAndGlyphs">Cover ...</text>
<text transform="translate(1163.92,730.3) rotate(-90)" font-size="5.2" fill="#3f4953" textLength="22.5" lengthAdjust="spacingAndGlyphs">Cover ...</text>
<text transform="translate(1198.68,730.3) rotate(-90)" font-size="5.2" fill="#3f4953" textLength="22.5" lengthAdjust="spacingAndGlyphs">Not as...</text>
<text transform="translate(1233.44,730.3) rotate(-90)" font-size="5.2" fill="#3f4953" textLength="22.5" lengthAdjust="spacingAndGlyphs">WTSX...</text>
<text transform="translate(1268.20,730.3) rotate(-90)" font-size="5.2" fill="#3f4953" textLength="22.5" lengthAdjust="spacingAndGlyphs">10155...</text>
<text transform="translate(1302.96,730.3) rotate(-90)" font-size="5.2" fill="#3f4953" textLength="22.5" lengthAdjust="spacingAndGlyphs">Motor ...</text>
<text transform="translate(1337.72,730.3) rotate(-90)" font-size="5.2" fill="#3f4953" textLength="22.5" lengthAdjust="spacingAndGlyphs">Cover ...</text>
<text transform="translate(1372.48,730.3) rotate(-90)" font-size="5.2" fill="#3f4953" textLength="22.5" lengthAdjust="spacingAndGlyphs">Not as...</text>
<text x="971" y="743" font-size="5.6" font-weight="bold" fill="#32363a" text-anchor="middle" textLength="11" lengthAdjust="spacingAndGlyphs">EUR</text>
<text x="971" y="757.2" font-size="5.6" font-weight="bold" fill="#32363a" text-anchor="middle" textLength="37" lengthAdjust="spacingAndGlyphs">Germany (DE)</text>
<text x="971" y="770.8" font-size="5.6" font-weight="bold" fill="#32363a" text-anchor="middle" textLength="12" lengthAdjust="spacingAndGlyphs">2024</text>
<text x="1301" y="743" font-size="5.6" font-weight="bold" fill="#32363a" text-anchor="middle" textLength="11" lengthAdjust="spacingAndGlyphs">EUR</text>
<text x="1301" y="757.2" font-size="5.6" font-weight="bold" fill="#32363a" text-anchor="middle" textLength="37" lengthAdjust="spacingAndGlyphs">Germany (DE)</text>
<text x="1301" y="770.8" font-size="5.6" font-weight="bold" fill="#32363a" text-anchor="middle" textLength="12" lengthAdjust="spacingAndGlyphs">2025</text>
<text transform="translate(706.7,702.8) rotate(-90)" font-size="5.9" fill="#3f4953" textLength="207" lengthAdjust="spacingAndGlyphs">Anzahl bewerteter Bestellpositionen &amp; Anzahl bewerteter Bestel...</text>
</svg></div>
</body>
</html>
